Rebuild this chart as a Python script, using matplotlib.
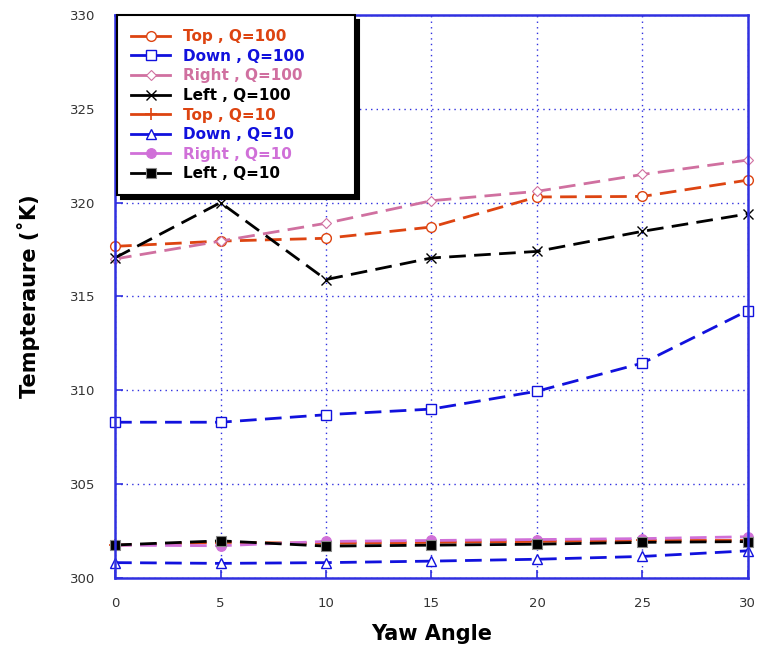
import numpy as np
import matplotlib
matplotlib.use("Agg")
import matplotlib.pyplot as plt

# yaw angle (deg)
yaw = [0, 5, 10, 15, 20, 25, 30]

# temperatures (K)
top_q100   = [317.67, 317.95, 318.1, 318.7, 320.3, 320.33, 321.2]
down_q100  = [308.3, 308.3, 308.7, 309.0, 309.95, 311.45, 314.25]
right_q100 = [317.0, 317.95, 318.9, 320.1, 320.6, 321.5, 322.27]
left_q100  = [317.06, 320.0, 315.9, 317.05, 317.4, 318.47, 319.4]
top_q10    = [301.75, 301.9, 301.85, 301.9, 301.95, 302.0, 302.0]
down_q10   = [300.82, 300.78, 300.82, 300.9, 301.0, 301.15, 301.45]
right_q10  = [301.75, 301.72, 301.95, 302.0, 302.05, 302.1, 302.2]
left_q10   = [301.76, 301.98, 301.7, 301.75, 301.8, 301.9, 301.94]

labels = ["Top , Q=100", "Down , Q=100", "Right , Q=100", "Left , Q=100",
          "Top , Q=10", "Down , Q=10", "Right , Q=10", "Left , Q=10"]

ORANGE = "#dd4411"
BLUE = "#1111dd"
PINK = "#d070a0"
ORCHID = "#d070d8"
BLACK = "#000000"
AXBLUE = "#3030e0"

series = [
    (top_q100,   ORANGE, dict(marker="o", ms=7, mfc="white", mew=1.0)),
    (down_q100,  BLUE,   dict(marker="s", ms=7.5, mfc="white", mew=1.0)),
    (right_q100, PINK,   dict(marker="D", ms=5, mfc="white", mew=0.8)),
    (left_q100,  BLACK,  dict(marker="x", ms=6.5, mew=1.0)),
    (top_q10,    ORANGE, dict(marker="+", ms=8, mew=1.2)),
    (down_q10,   BLUE,   dict(marker="^", ms=7.5, mfc="white", mew=1.0)),
    (right_q10,  ORCHID, dict(marker="o", ms=7, mfc=ORCHID, mew=0.8)),
    (left_q10,   BLACK,  dict(marker="s", ms=7.5, mfc=BLACK, mec="#888888", mew=0.8)),
]

fig = plt.figure(figsize=(7.57, 6.48), dpi=100)
ax = fig.add_axes([0.152, 0.108, 0.836, 0.869])

for (vals, col, mk), lab in zip(series, labels):
    kw = dict(mk)
    kw.setdefault("mec", col)
    ax.plot(yaw, vals, color=col, lw=2, ls=(0, (6, 3)), label=lab,
            clip_on=False, **kw)

ax.set_xlim(0, 30)
ax.set_ylim(300, 330)
ax.set_xticks(np.arange(0, 31, 5))
ax.set_yticks(np.arange(300, 331, 5))
ax.grid(True, color=AXBLUE, ls=(0, (1, 3)), lw=1)
for s in ax.spines.values():
    s.set_color(AXBLUE)
    s.set_linewidth(1.8)
ax.tick_params(direction="in", length=6, width=1.2, color=AXBLUE,
               labelcolor="#333333", labelsize=9.5)
ax.tick_params(axis="x", pad=14)
ax.tick_params(axis="y", pad=14)

ax.set_xlabel("Yaw Angle", fontsize=15, fontweight="bold", labelpad=10)
ax.set_ylabel("Tempteraure (˚K)", fontsize=15, fontweight="bold", labelpad=22)

leg = ax.legend(loc="upper left", bbox_to_anchor=(0.003, 0.686, 0.376, 0.313),
                mode="expand", borderaxespad=0,
                fancybox=False, framealpha=1, edgecolor="black",
                prop=dict(weight="bold", size=11), labelcolor="linecolor",
                handlelength=2.6, handletextpad=0.8, labelspacing=0.3,
                borderpad=0.9,
                shadow={"ox": 3, "oy": -3, "facecolor": "black",
                        "edgecolor": "black", "alpha": 1})
leg.get_frame().set_linewidth(1.5)
for h in leg.get_lines():
    h.set_linestyle("-")

plt.savefig("out.png", dpi=100)
